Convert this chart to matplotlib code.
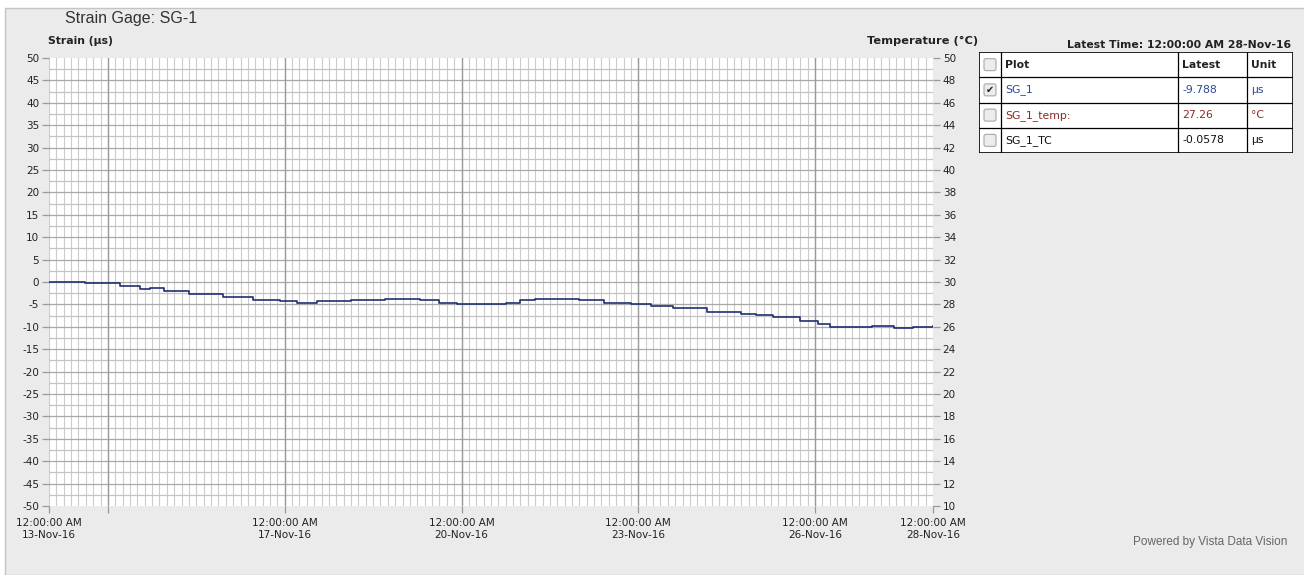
import numpy as np
import pandas as pd
import matplotlib
matplotlib.use("Agg")
import matplotlib.pyplot as plt
from matplotlib.patches import Rectangle, FancyBboxPatch

plt.rcParams["axes.unicode_minus"] = False

# data (hours since 13-Nov-16 00:00, strain in microstrain)
start = pd.Timestamp("2016-11-13 00:00")
hours = [0, 14, 14.6, 23, 29, 37, 41, 47, 57, 71, 83, 94, 101, 109, 123, 135, 137,
         147, 151, 159, 166, 180, 186, 192, 198, 212, 216, 226, 237, 245, 254, 268,
         282, 288, 295, 306, 313, 318, 330, 335, 344, 352, 360]
strain = [0.0, 0.0, -0.2, -0.3, -0.8, -1.5, -1.3, -1.9, -2.6, -3.3, -4.1, -4.3, -4.7,
          -4.3, -4.1, -4.1, -3.7, -3.7, -4.1, -4.6, -5.0, -5.0, -4.6, -4.1, -3.7, -3.7,
          -4.1, -4.6, -5.0, -5.4, -5.9, -6.8, -7.2, -7.4, -7.9, -8.6, -9.4, -10.0,
          -10.0, -9.8, -10.2, -10.0, -9.788]
times = start + pd.to_timedelta(hours, unit="h")

labeled_days = ["2016-11-13", "2016-11-17", "2016-11-20", "2016-11-23", "2016-11-26", "2016-11-28"]
major_days = ["2016-11-13", "2016-11-14", "2016-11-17", "2016-11-20", "2016-11-23", "2016-11-26", "2016-11-28"]

legend_rows = ["SG_1", "SG_1_temp:", "SG_1_TC"]
legend_latest = ["-9.788", "27.26", "-0.0578"]
legend_units = ["µs", "°C", "µs"]
legend_checked = [True, False, False]
legend_colors = ["#2b4a95", "#8a2a22", "#111111"]

W, H = 1304, 575
fig = plt.figure(figsize=(W / 100, H / 100), dpi=100, facecolor="white")

# panel background
fig.patches.append(Rectangle((5 / W, 0), 1, 1 - 8 / H, transform=fig.transFigure,
                             facecolor="#ebebeb", edgecolor="#c4c4c4", lw=1, zorder=-10))

ax = fig.add_axes([49 / W, 1 - 506 / H, 884 / W, 448 / H])
ax.set_facecolor("white")
ax.plot(times, strain, color="#1f3070", lw=1.2, drawstyle="steps-post", zorder=3)

x0 = pd.Timestamp("2016-11-13")
x1 = pd.Timestamp("2016-11-28")
ax.set_xlim(x0, x1)
ax.set_ylim(-50, 50)

# grid
minor_t = pd.date_range(x0, x1, freq="3h")
for t in minor_t:
    ax.axvline(t, color="#cccccc", lw=0.8, zorder=1)
for d in major_days[1:-1]:
    ax.axvline(pd.Timestamp(d), color="#9a9a9a", lw=1.0, zorder=2)
for v in np.arange(-47.5, 50, 2.5):
    ax.axhline(v, color="#a8a8a8" if v % 5 == 0 else "#c4c4c4", lw=0.9, zorder=1)

for s in ax.spines.values():
    s.set_visible(False)

ax.set_yticks(np.arange(-50, 51, 5))
ax.set_xticks([pd.Timestamp(d) for d in major_days])
ax.set_xticklabels(["12:00:00 AM\n%s" % pd.Timestamp(d).strftime("%d-%b-%y") if d in labeled_days else ""
                    for d in major_days], linespacing=1.15)
ax.tick_params(axis="both", colors="#999999", labelcolor="#222222", labelsize=7.5, length=5, width=0.9)
ax.tick_params(axis="x", pad=4)
ax.tick_params(axis="y", pad=2)

ax2 = ax.twinx()
ax2.set_ylim(10, 50)
ax2.set_yticks(np.arange(10, 51, 2))
ax2.tick_params(axis="y", colors="#999999", labelcolor="#222222", labelsize=7.5, length=5, width=0.9, pad=2)
for s in ax2.spines.values():
    s.set_visible(False)

fig.text(65 / W, 1 - 18 / H, "Strain Gage: SG-1", fontsize=11.5, family="Liberation Sans",
         color="#333333", va="center", ha="left")
fig.text(48 / W, 1 - 41 / H, "Strain (µs)", fontsize=7.8, fontweight="bold", color="#222222",
         va="center", ha="left")
fig.text(978 / W, 1 - 41 / H, "Temperature (°C)", fontsize=8.2, fontweight="bold", color="#222222",
         va="center", ha="right")
fig.text(1291 / W, 1 - 45 / H, "Latest Time: 12:00:00 AM 28-Nov-16", fontsize=7.8, fontweight="bold",
         color="#222222", va="center", ha="right")
fig.text(1287 / W, 1 - 542 / H, "Powered by Vista Data Vision", fontsize=8.5, family="Liberation Sans",
         color="#666666", va="center", ha="right")

# legend table
tx, ty, tw, th = 979, 52, 314, 101
tab = fig.add_axes([tx / W, 1 - (ty + th) / H, tw / W, th / H])
tab.set_xlim(0, tw)
tab.set_ylim(th, 0)
tab.axis("off")
tab.add_patch(Rectangle((0, 0), tw, th, facecolor="white", edgecolor="black", lw=1.2))
col_x = [22, 199, 268]
row_h = th / 4
for cx in col_x:
    tab.plot([cx, cx], [0, th], color="black", lw=0.9)
for i in range(1, 4):
    tab.plot([0, tw], [i * row_h, i * row_h], color="black", lw=0.9)

headers = ["Plot", "Latest", "Unit"]
for cx, hd in zip(col_x, headers):
    tab.text(cx + 4, row_h / 2, hd, fontsize=7.8, fontweight="bold", va="center", ha="left", color="#222222")

for i in range(4):
    cy = (i + 0.5) * row_h
    tab.add_patch(FancyBboxPatch((5, cy - 6), 12, 12, boxstyle="round,pad=0,rounding_size=2",
                                 facecolor="#ececec", edgecolor="#a8a8a8", lw=0.8))
    if i > 0 and legend_checked[i - 1]:
        tab.text(11, cy, "✔", fontsize=7, ha="center", va="center", color="#222222")
    if i > 0:
        c = legend_colors[i - 1]
        tab.text(col_x[0] + 4, cy, legend_rows[i - 1], fontsize=7.8, va="center", ha="left", color=c)
        tab.text(col_x[1] + 4, cy, legend_latest[i - 1], fontsize=7.8, va="center", ha="left", color=c)
        tab.text(col_x[2] + 4, cy, legend_units[i - 1], fontsize=7.8, va="center", ha="left", color=c)

fig.savefig("out.png", dpi=100, facecolor=fig.get_facecolor())
